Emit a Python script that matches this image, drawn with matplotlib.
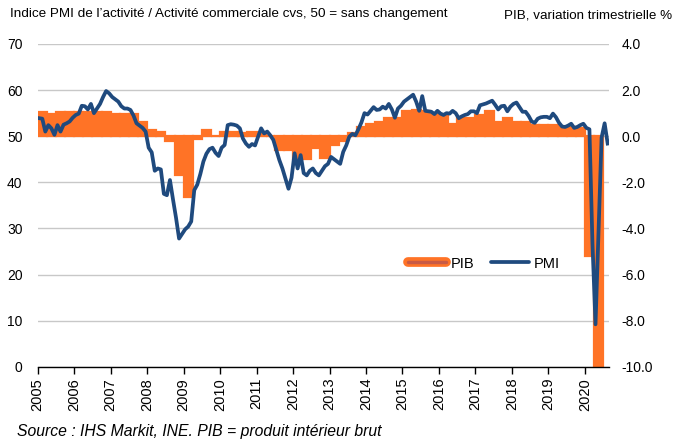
import numpy as np
import matplotlib
matplotlib.use("Agg")
import matplotlib.pyplot as plt
import matplotlib.patheffects as pe
from matplotlib.lines import Line2D

# PMI composite (monthly, Jan 2005 - Aug 2020)
pmi = [
    53.9, 53.8, 51.0, 52.4, 51.7, 50.3, 52.4, 51.0, 52.5, 52.8, 53.2, 54.0,  # 2005
    54.6, 54.9, 56.6, 56.5, 55.8, 57.0, 55.0, 56.0, 57.0, 58.5, 59.8, 59.3,  # 2006
    58.5, 58.0, 57.5, 56.5, 56.0, 56.0, 55.7, 54.5, 52.8, 52.3, 51.8, 51.0,  # 2007
    47.5, 46.5, 42.5, 43.0, 42.8, 37.5, 37.2, 40.5, 36.3, 32.3, 27.8, 28.8,  # 2008
    29.8, 30.4, 31.5, 38.3, 39.5, 41.8, 44.5, 46.2, 47.2, 47.5, 46.4, 45.7,  # 2009
    47.5, 48.1, 52.4, 52.6, 52.5, 52.3, 51.7, 49.5, 48.4, 47.7, 48.3, 48.0,  # 2010
    49.9, 51.7, 50.6, 51.0, 50.2, 49.2, 47.0, 44.8, 43.0, 40.8, 38.6, 41.0,  # 2011
    46.3, 43.0, 45.9, 42.0, 41.5, 42.5, 43.0, 42.0, 41.5, 42.5, 43.5, 44.0,  # 2012
    45.5, 45.0, 44.5, 44.0, 46.6, 48.0, 49.9, 50.5, 50.2, 51.5, 53.0, 55.0,  # 2013
    54.7, 55.5, 56.3, 55.7, 55.8, 56.4, 56.0, 57.0, 55.8, 54.0, 56.0, 56.6,  # 2014
    57.5, 58.0, 58.5, 59.0, 57.5, 55.5, 58.7, 55.5, 55.4, 55.3, 54.8, 55.5,  # 2015
    54.9, 54.6, 55.0, 54.9, 55.5, 55.0, 53.9, 54.3, 54.6, 54.8, 55.4, 55.4,  # 2016
    55.0, 56.7, 56.9, 57.1, 57.4, 57.7, 56.8, 55.8, 56.5, 56.6, 55.4, 56.4,  # 2017
    57.0, 57.3, 56.3, 55.3, 55.3, 54.4, 53.2, 52.9, 53.8, 54.1, 54.2, 54.2,  # 2018
    53.9, 54.9, 54.1, 52.9, 52.1, 52.0, 52.3, 52.7, 51.8, 52.0, 52.4, 52.7,  # 2019
    51.8, 51.5, 26.7, 9.2, 29.2, 49.7, 52.8, 48.4,                           # 2020
]

# PIB, variation trimestrielle % (Q1 2005 - Q2 2020)
pib = [
    1.05, 0.98, 1.05, 1.05,  # 2005
    1.05, 1.05, 1.05, 1.05,  # 2006
    0.98, 0.98, 0.98, 0.62,  # 2007
    0.26, 0.18, -0.22, -1.67,  # 2008
    -2.65, -0.1, 0.25, 0.0,  # 2009
    0.17, 0.2, 0.15, 0.2,  # 2010
    0.1, 0.0, -0.6, -0.6,  # 2011
    -1.0, -1.0, -0.5, -0.95,  # 2012
    -0.38, -0.2, 0.15, 0.4,  # 2013
    0.55, 0.63, 0.77, 0.77,  # 2014
    1.1, 1.13, 1.1, 0.96,  # 2015
    0.96, 0.55, 0.77, 0.77,  # 2016
    0.9, 1.1, 0.63, 0.77,  # 2017
    0.6, 0.6, 0.5, 0.5,  # 2018
    0.5, 0.4, 0.4, 0.35,  # 2019
    -5.2, -18.5,  # 2020
]

years = list(range(2005, 2021))

ORANGE = "#FF7326"
NAVY = "#1F4A7E"
FONT = ["Liberation Sans", "DejaVu Sans"]

plt.rcParams["font.family"] = FONT

pmi_t = 2005 + (np.arange(len(pmi)) + 0.5) / 12
pib_t = 2005 + np.arange(len(pib)) / 4

fig = plt.figure(figsize=(6.76, 4.43), dpi=100)
ax2 = fig.add_axes([0.0558, 0.1722, 0.845, 0.7285])
ax = ax2.twinx()
ax.set_zorder(ax2.get_zorder() + 1)
ax.patch.set_visible(False)

# bars on the right axis
ax2.bar(pib_t, pib, width=0.25, align="edge", color=ORANGE,
        edgecolor=ORANGE, linewidth=1.6, zorder=2)
ax2.set_ylim(-10, 4)
ax2.set_yticks(np.arange(-10, 4.1, 2))
ax2.set_yticklabels([f"{v:.1f}" for v in np.arange(-10, 4.1, 2)])
ax2.yaxis.tick_right()
ax2.grid(axis="y", color="#C8C8C8", linewidth=1.0, zorder=0)
ax2.set_axisbelow(True)

# line on the left axis
ax.plot(pmi_t, pmi, color=NAVY, linewidth=2.7, solid_joinstyle="round", zorder=3)
ax.set_ylim(0, 70)
ax.set_yticks(range(0, 71, 10))
ax.yaxis.tick_left()

ax2.set_xlim(2005, 2020.66)
ax2.set_xticks(years)
ax2.set_xticklabels([str(y) for y in years], rotation=90, fontsize=10.5)
ax.set_xticks(years)

for a in (ax, ax2):
    for side in ("top", "left", "right", "bottom"):
        a.spines[side].set_visible(False)
ax2.spines["bottom"].set_visible(True)
ax2.spines["bottom"].set_color("black")
ax2.spines["bottom"].set_linewidth(1.0)

ax2.tick_params(axis="x", direction="out", length=5, width=1, color="black", pad=3)
ax2.tick_params(axis="y", length=0, labelsize=10, pad=9)
ax.tick_params(axis="y", length=0, labelsize=10, pad=11)
ax.tick_params(axis="x", length=0, labelbottom=False)

# legend
pib_handle = Line2D([], [], color="#C85A45", linewidth=2.5, solid_capstyle="round",
                    path_effects=[pe.Stroke(linewidth=7, foreground=ORANGE,
                                            capstyle="round"), pe.Normal()])
pmi_handle = Line2D([], [], color=NAVY, linewidth=2.7, solid_capstyle="round")
fig.legend([pib_handle, pmi_handle], ["PIB", "PMI"], ncol=2, frameon=False,
           loc="center", bbox_to_anchor=(0.716, 0.405), fontsize=10.5,
           handlelength=2.6, columnspacing=1.1, handletextpad=0.35)

fig.text(0.015, 0.968, "Indice PMI de l\u2019activit\u00e9 / Activit\u00e9 commerciale cvs, 50 = sans changement",
         fontsize=9.7, va="center", ha="left")
fig.text(0.995, 0.964, "PIB, variation trimestrielle %", fontsize=9.6, va="center", ha="right")
fig.text(0.025, 0.025, "Source : IHS Markit, INE. PIB = produit int\u00e9rieur brut",
         fontsize=11.3, style="italic", va="center", ha="left")

fig.savefig("out.png", dpi=100)
